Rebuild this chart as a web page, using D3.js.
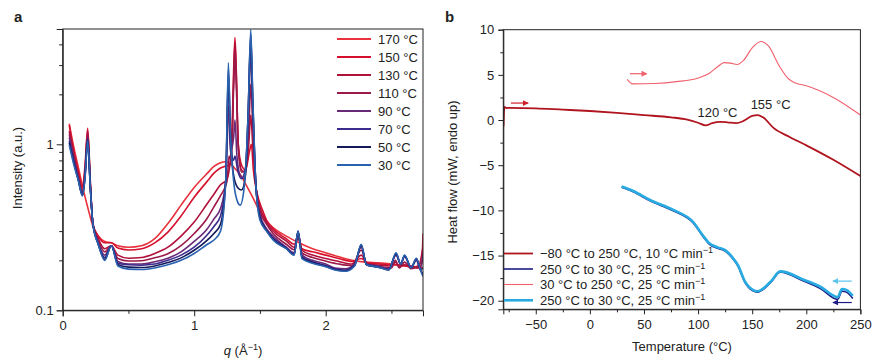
<!DOCTYPE html>
<html><head><meta charset="utf-8">
<script src="https://cdn.jsdelivr.net/npm/d3@7"></script>
<style>
body{margin:0;background:#fff;}
svg text{font-family:"Liberation Sans",Arial,Helvetica,sans-serif;fill:#222;}
</style></head>
<body><svg id="c" width="880" height="364"></svg>
<script>
// ---------- Panel a data: SAXS/WAXS intensity vs q ----------
const tempLabels = ["170 °C","150 °C","130 °C","110 °C","90 °C","70 °C","50 °C","30 °C"];
const tempColors = ["#e8323c","#d4102c","#b0103a","#9c1a4a","#6b2a78","#3c2a8c","#141a5a","#2a62b0"];
const s170 = [[0.05,1.33],[0.08,1.0],[0.12,0.72],[0.16,0.52],[0.2,0.39],[0.23,0.32],[0.27,0.28],[0.32,0.26],[0.37,0.255],[0.42,0.245],[0.5,0.24],[0.6,0.245],[0.7,0.27],[0.8,0.333],[0.9,0.43],[1.0,0.55],[1.1,0.67],[1.15,0.735],[1.2,0.775],[1.24,0.785],[1.28,0.755],[1.32,0.7],[1.36,0.64],[1.4,0.56],[1.45,0.47],[1.5,0.39],[1.55,0.345],[1.6,0.315],[1.7,0.28],[1.8,0.255],[1.9,0.235],[2.0,0.222],[2.1,0.21],[2.2,0.2],[2.3,0.195],[2.4,0.193],[2.5,0.19],[2.6,0.186],[2.7,0.182],[2.74,0.18]];
const s150 = [[0.05,1.3],[0.08,0.95],[0.12,0.68],[0.15,0.55],[0.17,0.75],[0.19,1.25],[0.21,0.6],[0.23,0.33],[0.27,0.28],[0.32,0.255],[0.37,0.255],[0.42,0.237],[0.5,0.231],[0.6,0.235],[0.7,0.255],[0.8,0.296],[0.9,0.37],[1.0,0.48],[1.1,0.6],[1.15,0.67],[1.2,0.72],[1.24,0.74],[1.27,0.75],[1.29,1.1],[1.3,2.8],[1.31,4.4],[1.32,2.8],[1.335,1.0],[1.36,0.75],[1.39,0.7],[1.42,0.9],[1.435,1.0],[1.45,0.7],[1.48,0.5],[1.52,0.4],[1.55,0.35],[1.6,0.31],[1.7,0.27],[1.76,0.25],[1.79,0.27],[1.82,0.235],[1.9,0.225],[2.0,0.215],[2.1,0.205],[2.2,0.197],[2.27,0.205],[2.32,0.193],[2.4,0.19],[2.5,0.188],[2.6,0.185],[2.7,0.18],[2.73,0.19],[2.74,0.29]];
const s130 = [[0.05,1.2],[0.08,0.9],[0.12,0.65],[0.15,0.52],[0.17,0.7],[0.19,1.2],[0.21,0.58],[0.23,0.33],[0.27,0.27],[0.32,0.235],[0.37,0.245],[0.42,0.215],[0.5,0.206],[0.6,0.208],[0.7,0.22],[0.8,0.24],[0.9,0.28],[1.0,0.34],[1.1,0.44],[1.15,0.5],[1.2,0.57],[1.25,0.62],[1.28,0.9],[1.3,2.5],[1.31,4.1],[1.32,2.6],[1.335,1.0],[1.36,0.7],[1.39,0.68],[1.415,1.0],[1.43,1.5],[1.445,1.0],[1.47,0.55],[1.5,0.42],[1.55,0.34],[1.6,0.3],[1.7,0.262],[1.76,0.24],[1.79,0.28],[1.82,0.23],[1.9,0.215],[2.0,0.205],[2.1,0.197],[2.2,0.19],[2.27,0.215],[2.32,0.19],[2.4,0.187],[2.5,0.185],[2.53,0.195],[2.56,0.183],[2.6,0.188],[2.7,0.18],[2.74,0.24]];
const s110 = [[0.05,1.15],[0.08,0.88],[0.12,0.63],[0.15,0.51],[0.17,0.68],[0.19,1.15],[0.21,0.57],[0.23,0.33],[0.27,0.265],[0.32,0.225],[0.37,0.245],[0.42,0.205],[0.5,0.198],[0.6,0.199],[0.7,0.207],[0.8,0.219],[0.9,0.245],[1.0,0.29],[1.1,0.36],[1.15,0.42],[1.2,0.49],[1.25,0.6],[1.265,0.85],[1.28,0.8],[1.3,2.2],[1.31,3.6],[1.32,2.3],[1.335,0.95],[1.36,0.68],[1.39,0.7],[1.415,1.2],[1.43,2.3],[1.445,1.3],[1.47,0.55],[1.5,0.4],[1.55,0.33],[1.6,0.29],[1.7,0.25],[1.76,0.232],[1.79,0.29],[1.82,0.222],[1.9,0.208],[2.0,0.198],[2.1,0.19],[2.2,0.186],[2.27,0.23],[2.32,0.186],[2.4,0.183],[2.5,0.18],[2.53,0.2],[2.56,0.18],[2.6,0.195],[2.65,0.178],[2.7,0.185],[2.74,0.2]];
const s90 = [[0.05,1.1],[0.08,0.85],[0.12,0.62],[0.15,0.5],[0.17,0.66],[0.19,1.1],[0.21,0.56],[0.23,0.33],[0.27,0.255],[0.32,0.215],[0.37,0.245],[0.42,0.197],[0.5,0.19],[0.6,0.19],[0.7,0.196],[0.8,0.206],[0.9,0.225],[1.0,0.26],[1.1,0.31],[1.15,0.355],[1.2,0.41],[1.24,0.6],[1.26,1.7],[1.275,0.9],[1.3,1.1],[1.31,1.4],[1.325,0.85],[1.35,0.65],[1.38,0.62],[1.41,1.2],[1.43,3.5],[1.445,1.6],[1.47,0.55],[1.5,0.38],[1.55,0.31],[1.6,0.28],[1.7,0.24],[1.76,0.222],[1.79,0.295],[1.82,0.215],[1.9,0.2],[2.0,0.19],[2.07,0.18],[2.15,0.178],[2.22,0.19],[2.27,0.24],[2.31,0.19],[2.4,0.185],[2.48,0.178],[2.535,0.215],[2.57,0.19],[2.6,0.21],[2.65,0.183],[2.69,0.2],[2.72,0.178],[2.74,0.22]];
const s70 = [[0.05,1.05],[0.08,0.82],[0.12,0.61],[0.15,0.495],[0.17,0.65],[0.19,1.08],[0.21,0.555],[0.23,0.33],[0.27,0.252],[0.32,0.208],[0.37,0.245],[0.42,0.192],[0.5,0.188],[0.6,0.187],[0.7,0.19],[0.8,0.2],[0.9,0.215],[1.0,0.24],[1.1,0.285],[1.15,0.32],[1.2,0.37],[1.24,0.6],[1.26,2.4],[1.275,1.1],[1.3,0.8],[1.31,0.85],[1.33,0.7],[1.36,0.62],[1.39,0.72],[1.41,1.5],[1.43,4.2],[1.445,1.8],[1.47,0.55],[1.5,0.37],[1.55,0.305],[1.6,0.272],[1.7,0.238],[1.76,0.218],[1.79,0.298],[1.82,0.21],[1.9,0.196],[2.0,0.186],[2.07,0.178],[2.15,0.175],[2.22,0.188],[2.27,0.245],[2.31,0.189],[2.4,0.183],[2.48,0.176],[2.535,0.218],[2.57,0.19],[2.6,0.212],[2.65,0.181],[2.69,0.203],[2.72,0.176],[2.74,0.18]];
const s50 = [[0.05,1.02],[0.08,0.8],[0.12,0.6],[0.15,0.49],[0.17,0.64],[0.19,1.06],[0.21,0.55],[0.23,0.33],[0.27,0.25],[0.32,0.203],[0.37,0.245],[0.42,0.188],[0.5,0.182],[0.6,0.181],[0.7,0.185],[0.8,0.194],[0.9,0.207],[1.0,0.23],[1.1,0.265],[1.15,0.29],[1.2,0.33],[1.24,0.6],[1.26,2.8],[1.275,1.2],[1.3,0.65],[1.33,0.55],[1.36,0.53],[1.39,0.65],[1.41,1.5],[1.43,4.6],[1.445,1.9],[1.47,0.55],[1.5,0.36],[1.55,0.302],[1.6,0.268],[1.7,0.236],[1.76,0.216],[1.79,0.3],[1.82,0.207],[1.9,0.194],[2.0,0.184],[2.07,0.176],[2.15,0.173],[2.22,0.186],[2.27,0.248],[2.31,0.188],[2.4,0.182],[2.48,0.175],[2.535,0.22],[2.57,0.19],[2.6,0.214],[2.65,0.18],[2.69,0.205],[2.72,0.175],[2.74,0.165]];
const s30 = [[0.05,0.99],[0.08,0.78],[0.12,0.6],[0.15,0.49],[0.17,0.63],[0.19,1.05],[0.21,0.55],[0.23,0.33],[0.27,0.25],[0.32,0.2],[0.37,0.245],[0.42,0.185],[0.5,0.177],[0.6,0.176],[0.7,0.18],[0.8,0.188],[0.9,0.2],[1.0,0.22],[1.1,0.25],[1.15,0.265],[1.2,0.3],[1.24,0.6],[1.26,3.1],[1.275,1.2],[1.3,0.6],[1.33,0.45],[1.35,0.43],[1.38,0.55],[1.41,1.5],[1.43,4.9],[1.445,2.0],[1.47,0.55],[1.5,0.35],[1.55,0.3],[1.6,0.265],[1.7,0.235],[1.76,0.215],[1.79,0.3],[1.82,0.205],[1.9,0.192],[2.0,0.183],[2.07,0.175],[2.15,0.172],[2.22,0.185],[2.27,0.25],[2.31,0.188],[2.4,0.182],[2.48,0.175],[2.535,0.222],[2.57,0.19],[2.6,0.215],[2.65,0.18],[2.69,0.206],[2.72,0.175],[2.74,0.16]];
const seriesA = [s170,s150,s130,s110,s90,s70,s50,s30];
const aXTicks = [0,1,2];
const aXMinor = [0.5,1.5,2.5];
const aYTicks = [0.1,1];
const aYMinor = [0.2,0.3,0.4,0.5,0.6,0.7,0.8,0.9,2,3,4];

// ---------- Panel b data: DSC heat flow vs temperature ----------
const dscLabels = ["−80 °C to 250 °C, 10 °C min","250 °C to 30 °C, 25 °C min","30 °C to 250 °C, 25 °C min","250 °C to 30 °C, 25 °C min"];
const dscColors = ["#b0141e","#1c1c84","#f0606c","#29abe2"];
const dscWidths = [1.8,1.6,1.1,2.6];
const heat1 = [[-79.8,-0.7],[-79,1.45],[-77,1.32],[-75,1.35],[-50,1.3],[-25,1.15],[0,1.0],[25,0.8],[50,0.55],[75,0.3],[90,0.05],[100,-0.3],[107,-0.6],[113,-0.35],[120,-0.2],[127,-0.25],[135,-0.35],[142,-0.1],[150,0.45],[155,0.55],[160,0.3],[170,-0.9],[185,-1.9],[200,-2.8],[225,-4.4],[250,-6.2]];
const cool1 = [[29.3,-7.45],[40,-7.95],[55.6,-8.95],[77,-10.05],[95.5,-11.4],[104,-12.8],[110,-13.7],[118,-14.2],[125,-14.5],[131,-15.2],[137,-16.2],[143,-17.9],[150.6,-18.9],[155,-19.05],[167,-18.0],[176,-16.85],[198,-17.85],[213,-18.65],[229,-19.85],[233,-18.95],[237,-19.05],[243,-19.75]];
const heat2 = [[34.5,4.5],[39.5,4.0],[60,4.05],[80,4.25],[100,4.65],[110,5.15],[118,5.9],[124,6.35],[130,6.3],[136,6.15],[142,6.6],[150,8.0],[158,8.7],[165,8.2],[175,6.0],[183.5,4.57],[190,4.1],[200,3.8],[225,2.5],[250,0.55]];
const cool2 = [[29.3,-7.35],[40,-7.85],[55.6,-8.85],[77,-9.95],[95.5,-11.3],[104,-12.7],[110,-13.6],[118,-14.1],[125,-14.4],[131,-15.1],[137,-16.1],[143,-17.8],[150.6,-18.8],[155,-18.95],[167,-17.9],[176,-16.75],[198,-17.7],[213,-18.45],[229,-19.6],[233,-18.7],[237,-18.8],[243,-19.45]];
const seriesB = [heat1,cool1,heat2,cool2];
const bXTicks = [-50,0,50,100,150,200,250];
const bXMinor = [-75,-25,25,75,125,175,225];
const bYTicks = [10,5,0,-5,-10,-15,-20];
const bYMinor = [7.5,2.5,-2.5,-7.5,-12.5,-17.5];
// arrows: [x1,x2,y]
const arrowsB = [[-73,-57,1.88],[37,52.7,5.13],[242,224.6,-17.83],[242,224.6,-20.2]];
const arrowColors = ["#d0202c","#f0606c","#5cc4ea","#1c1c84"];
const notes = [["120 °C",118,0.3],["155 °C",167,1.2]];

const svg = d3.select("#c");
const axisCol = "#222";

function styleAxis(g){
  g.selectAll("path,line").attr("stroke",axisCol).attr("stroke-width",1);
  g.selectAll("text").attr("font-size",13).attr("fill","#222").style("font-family",'"Liberation Sans",Arial,sans-serif');
}

// ================= Panel a =================
const xA = d3.scaleLinear().domain([0,2.74]).range([62.7,423]);
const yA = d3.scaleLog().domain([0.1,4.95]).range([310.3,29]);
svg.append("clipPath").attr("id","clipA").append("rect")
  .attr("x",xA.range()[0]).attr("y",yA.range()[1]).attr("width",xA.range()[1]-xA.range()[0]).attr("height",yA.range()[0]-yA.range()[1]);

const lineA = d3.line().x(d=>xA(d[0])).y(d=>yA(d[1])).curve(d3.curveMonotoneX);
const gA = svg.append("g").attr("clip-path","url(#clipA)");
seriesA.forEach((s,i)=>{
  gA.append("path").datum(s).attr("d",lineA).attr("fill","none")
    .attr("stroke",tempColors[i]).attr("stroke-width",1.6).attr("stroke-linejoin","round");
});

svg.append("rect").attr("x",xA.range()[0]).attr("y",yA.range()[1])
  .attr("width",xA.range()[1]-xA.range()[0]).attr("height",yA.range()[0]-yA.range()[1])
  .attr("fill","none").attr("stroke",axisCol).attr("stroke-width",1);

const axXA = svg.append("g").attr("transform",`translate(0,${yA.range()[0]})`)
  .call(d3.axisBottom(xA).tickValues(aXTicks).tickFormat(d3.format("d")).tickSize(6).tickPadding(4));
styleAxis(axXA);
const axXAm = svg.append("g").attr("transform",`translate(0,${yA.range()[0]})`)
  .call(d3.axisBottom(xA).tickValues(aXMinor).tickFormat("").tickSize(3.5));
styleAxis(axXAm); axXAm.select("path").remove();

const axYA = svg.append("g").attr("transform",`translate(${xA.range()[0]},0)`)
  .call(d3.axisLeft(yA).tickValues(aYTicks).tickFormat(d=>d===1?"1":"0.1").tickSize(6).tickPadding(3));
styleAxis(axYA);
const axYAm = svg.append("g").attr("transform",`translate(${xA.range()[0]},0)`)
  .call(d3.axisLeft(yA).tickValues(aYMinor).tickFormat("").tickSize(3.5));
styleAxis(axYAm); axYAm.select("path").remove();

svg.append("text").attr("x",14).attr("y",22).attr("font-size",15).attr("font-weight","bold").text("a");
svg.append("text").attr("transform","translate(22,168) rotate(-90)").attr("text-anchor","middle")
  .attr("font-size",13).text("Intensity (a.u.)");
const qlab = svg.append("text").attr("x",243).attr("y",355).attr("text-anchor","middle").attr("font-size",13);
qlab.append("tspan").attr("font-style","italic").text("q");
qlab.append("tspan").text(" (Å");
qlab.append("tspan").attr("font-size",9).attr("dy",-5).text("−1");
qlab.append("tspan").attr("dy",5).text(")");

const legA = svg.append("g");
tempLabels.forEach((t,i)=>{
  const y = 39 + i*18;
  legA.append("line").attr("x1",337).attr("x2",371).attr("y1",y).attr("y2",y)
    .attr("stroke",tempColors[i]).attr("stroke-width",1.8);
  legA.append("text").attr("x",378).attr("y",y+4.5).attr("font-size",13).text(t);
});

// ================= Panel b =================
const xB = d3.scaleLinear().domain([-80,250]).range([503.3,860.4]);
const yB = d3.scaleLinear().domain([-20.95,10]).range([309.3,29.7]);
svg.append("clipPath").attr("id","clipB").append("rect")
  .attr("x",xB.range()[0]).attr("y",yB.range()[1]).attr("width",xB.range()[1]-xB.range()[0]).attr("height",yB.range()[0]-yB.range()[1]);
const lineB = d3.line().x(d=>xB(d[0])).y(d=>yB(d[1])).curve(d3.curveMonotoneX);
const gB = svg.append("g").attr("clip-path","url(#clipB)");
[0,2,1,3].forEach(i=>{
  gB.append("path").datum(seriesB[i]).attr("d",lineB).attr("fill","none")
    .attr("stroke",dscColors[i]).attr("stroke-width",dscWidths[i]).attr("stroke-linejoin","round");
});

svg.append("rect").attr("x",xB.range()[0]).attr("y",yB.range()[1])
  .attr("width",xB.range()[1]-xB.range()[0]).attr("height",yB.range()[0]-yB.range()[1])
  .attr("fill","none").attr("stroke",axisCol).attr("stroke-width",1);

const axXB = svg.append("g").attr("transform",`translate(0,${yB.range()[0]})`)
  .call(d3.axisBottom(xB).tickValues(bXTicks).tickFormat(d3.format("d")).tickSize(5).tickPadding(5));
styleAxis(axXB);
const axXBm = svg.append("g").attr("transform",`translate(0,${yB.range()[0]})`)
  .call(d3.axisBottom(xB).tickValues(bXMinor).tickFormat("").tickSize(3));
styleAxis(axXBm); axXBm.select("path").remove();
const axYB = svg.append("g").attr("transform",`translate(${xB.range()[0]},0)`)
  .call(d3.axisLeft(yB).tickValues(bYTicks).tickFormat(d3.format("d")).tickSize(5).tickPadding(4));
styleAxis(axYB);
const axYBm = svg.append("g").attr("transform",`translate(${xB.range()[0]},0)`)
  .call(d3.axisLeft(yB).tickValues(bYMinor).tickFormat("").tickSize(3));
styleAxis(axYBm); axYBm.select("path").remove();

svg.append("text").attr("x",445).attr("y",22).attr("font-size",15).attr("font-weight","bold").text("b");
svg.append("text").attr("transform","translate(457,172) rotate(-90)").attr("text-anchor","middle")
  .attr("font-size",13).text("Heat flow (mW, endo up)");
svg.append("text").attr("x",682).attr("y",351).attr("text-anchor","middle").attr("font-size",13).text("Temperature (°C)");

notes.forEach(n=>{
  svg.append("text").attr("x",xB(n[1])).attr("y",yB(n[2])).attr("text-anchor","middle").attr("font-size",13).text(n[0]);
});

const defs = svg.append("defs");
arrowColors.forEach((c,i)=>{
  defs.append("marker").attr("id","ah"+i).attr("viewBox","0 0 10 10").attr("refX",9).attr("refY",5)
    .attr("markerWidth",6).attr("markerHeight",6).attr("markerUnits","userSpaceOnUse").attr("orient","auto")
    .append("path").attr("d","M0,0 L10,5 L0,10 Z").attr("fill",c);
});
arrowsB.forEach((a,i)=>{
  svg.append("line").attr("x1",xB(a[0])).attr("x2",xB(a[1])).attr("y1",yB(a[2])).attr("y2",yB(a[2]))
    .attr("stroke",arrowColors[i]).attr("stroke-width",1.2).attr("marker-end",`url(#ah${i})`);
});

const legRows = [253.5,269,284.5,300.3];
dscLabels.forEach((t,i)=>{
  const y = legRows[i];
  svg.append("line").attr("x1",504).attr("x2",533).attr("y1",y).attr("y2",y)
    .attr("stroke",dscColors[i]).attr("stroke-width",dscWidths[i]);
  const tx = svg.append("text").attr("x",540).attr("y",y+4.5).attr("font-size",13);
  tx.append("tspan").text(t);
  tx.append("tspan").attr("font-size",9).attr("dy",-5).text("−1");
});
</script></body></html>
